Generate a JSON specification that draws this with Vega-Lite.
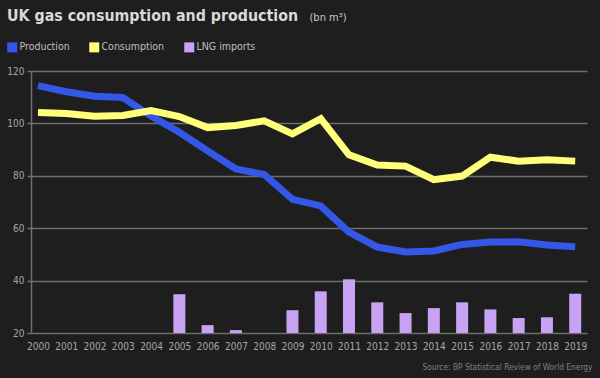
{
  "$schema": "https://vega.github.io/schema/vega-lite/v6.json",
  "autosize": {"type": "none"},
  "width": 556,
  "height": 262,
  "padding": {"left": 31, "top": 71, "right": 13, "bottom": 45},
  "background": "#1e1e1e",
  "title": {
    "text": "UK gas consumption and production",
    "anchor": "start",
    "frame": "group",
    "dx": -24,
    "dy": 18,
    "font": "DejaVu Sans Condensed",
    "fontSize": 15.8,
    "fontWeight": "bold",
    "color": "#d9d9d9"
  },
  "config": {
    "view": {"stroke": null},
    "font": "DejaVu Sans Condensed"
  },
  "data": {
    "values": [
      {"year": 2000, "series": "Production", "value": 114.4},
      {"year": 2001, "series": "Production", "value": 112.1},
      {"year": 2002, "series": "Production", "value": 110.4},
      {"year": 2003, "series": "Production", "value": 109.9},
      {"year": 2004, "series": "Production", "value": 102.8},
      {"year": 2005, "series": "Production", "value": 96.6},
      {"year": 2006, "series": "Production", "value": 89.5},
      {"year": 2007, "series": "Production", "value": 82.6},
      {"year": 2008, "series": "Production", "value": 80.5},
      {"year": 2009, "series": "Production", "value": 71.0},
      {"year": 2010, "series": "Production", "value": 68.5},
      {"year": 2011, "series": "Production", "value": 58.5},
      {"year": 2012, "series": "Production", "value": 52.8},
      {"year": 2013, "series": "Production", "value": 50.9},
      {"year": 2014, "series": "Production", "value": 51.3},
      {"year": 2015, "series": "Production", "value": 53.8},
      {"year": 2016, "series": "Production", "value": 54.7},
      {"year": 2017, "series": "Production", "value": 54.8},
      {"year": 2018, "series": "Production", "value": 53.6},
      {"year": 2019, "series": "Production", "value": 52.9},
      {"year": 2000, "series": "Consumption", "value": 104.2},
      {"year": 2001, "series": "Consumption", "value": 103.8},
      {"year": 2002, "series": "Consumption", "value": 102.7},
      {"year": 2003, "series": "Consumption", "value": 103.0},
      {"year": 2004, "series": "Consumption", "value": 104.9},
      {"year": 2005, "series": "Consumption", "value": 102.6},
      {"year": 2006, "series": "Consumption", "value": 98.4},
      {"year": 2007, "series": "Consumption", "value": 99.2},
      {"year": 2008, "series": "Consumption", "value": 101.0},
      {"year": 2009, "series": "Consumption", "value": 96.0},
      {"year": 2010, "series": "Consumption", "value": 101.8},
      {"year": 2011, "series": "Consumption", "value": 88.0},
      {"year": 2012, "series": "Consumption", "value": 84.1},
      {"year": 2013, "series": "Consumption", "value": 83.7},
      {"year": 2014, "series": "Consumption", "value": 78.5},
      {"year": 2015, "series": "Consumption", "value": 79.9},
      {"year": 2016, "series": "Consumption", "value": 87.1},
      {"year": 2017, "series": "Consumption", "value": 85.6},
      {"year": 2018, "series": "Consumption", "value": 86.1},
      {"year": 2019, "series": "Consumption", "value": 85.6},
      {"year": 2005, "series": "LNG imports", "value": 34.8},
      {"year": 2006, "series": "LNG imports", "value": 23.0},
      {"year": 2007, "series": "LNG imports", "value": 21.1},
      {"year": 2009, "series": "LNG imports", "value": 28.7},
      {"year": 2010, "series": "LNG imports", "value": 35.9},
      {"year": 2011, "series": "LNG imports", "value": 40.5},
      {"year": 2012, "series": "LNG imports", "value": 31.7},
      {"year": 2013, "series": "LNG imports", "value": 27.6},
      {"year": 2014, "series": "LNG imports", "value": 29.5},
      {"year": 2015, "series": "LNG imports", "value": 31.7},
      {"year": 2016, "series": "LNG imports", "value": 29.0},
      {"year": 2017, "series": "LNG imports", "value": 25.7},
      {"year": 2018, "series": "LNG imports", "value": 26.0},
      {"year": 2019, "series": "LNG imports", "value": 35.0}
    ]
  },
  "encoding": {
    "x": {
      "field": "year",
      "type": "quantitative",
      "scale": {"domain": [1999.93, 2019.24], "nice": false, "zero": false},
      "axis": {
        "values": [2000,2001,2002,2003,2004,2005,2006,2007,2008,2009,2010,2011,2012,2013,2014,2015,2016,2017,2018,2019],
        "format": "d",
        "grid": false,
        "domain": false,
        "ticks": false,
        "labelPadding": 8,
        "labelFontSize": 10,
        "labelColor": "#a6a6a6",
        "labelFont": "DejaVu Sans Condensed",
        "title": "Source: BP Statistical Review of World Energy",
        "titleFont": "DejaVu Sans Condensed",
        "titleFontSize": 8.3,
        "titleFontWeight": "normal",
        "titleColor": "#808080",
        "titleAnchor": "end",
        "titleAlign": "right",
        "titleBaseline": "top",
        "titleX": 561,
        "titleY": 29
      }
    },
    "y": {
      "field": "value",
      "type": "quantitative",
      "scale": {"domain": [20, 120], "nice": false, "zero": false},
      "axis": {
        "values": [20, 40, 60, 80, 100, 120],
        "grid": true,
        "gridColor": "#6e6e6e",
        "gridWidth": 1.5,
        "domain": true,
        "domainColor": "#6e6e6e",
        "domainWidth": 1.5,
        "ticks": true,
        "tickColor": "#6e6e6e",
        "tickSize": 4,
        "tickWidth": 1.5,
        "labelPadding": 3,
        "labelFontSize": 10,
        "labelColor": "#a6a6a6",
        "labelFont": "DejaVu Sans Condensed",
        "title": "(bn m³)",
        "titleAngle": 0,
        "titleAlign": "left",
        "titleBaseline": "alphabetic",
        "titleX": 278,
        "titleY": -51,
        "titleFont": "DejaVu Sans Condensed",
        "titleFontSize": 11,
        "titleFontWeight": "normal",
        "titleColor": "#c8c8c8"
      }
    },
    "color": {
      "field": "series",
      "type": "nominal",
      "scale": {
        "domain": ["Production", "Consumption", "LNG imports"],
        "range": ["#3557e8", "#ffff7a", "#c9a3f3"]
      },
      "legend": {
        "orient": "none",
        "legendX": -24,
        "legendY": -29,
        "direction": "horizontal",
        "title": null,
        "symbolType": "square",
        "symbolSize": 100,
        "symbolStrokeWidth": 0,
        "symbolOpacity": 1,
        "labelFont": "DejaVu Sans Condensed",
        "labelFontSize": 10.5,
        "labelColor": "#bfbfbf",
        "labelOffset": 2,
        "columnPadding": 19
      }
    }
  },
  "layer": [
    {
      "transform": [{"filter": "datum.series === 'LNG imports'"}],
      "mark": {"type": "bar", "width": 12, "clip": false},
      "encoding": {
        "y2": {"datum": 20}
      }
    },
    {
      "transform": [{"filter": "datum.series !== 'LNG imports'"}],
      "mark": {"type": "line", "strokeWidth": 7, "clip": false},
      "encoding": {
        "detail": {"field": "series"}
      }
    }
  ]
}
